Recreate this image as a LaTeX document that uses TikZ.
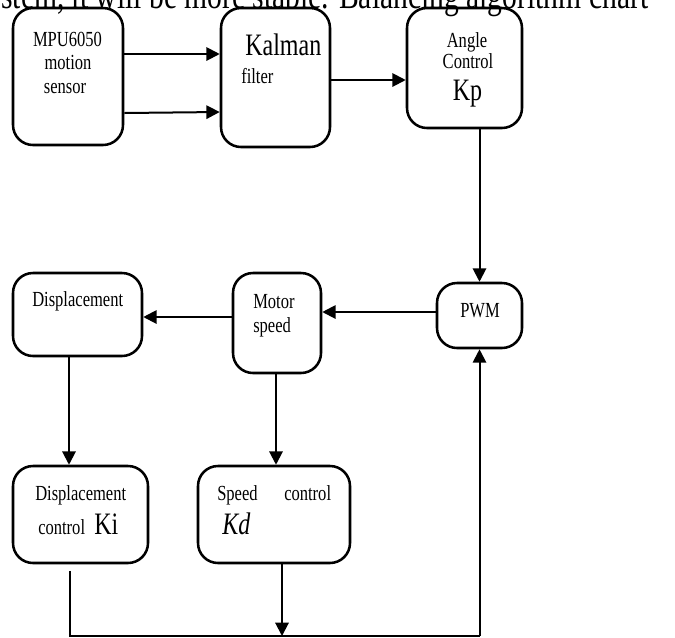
\documentclass[tikz,border=0pt]{standalone}
\usepackage{graphicx}
\usepackage{fontspec}
\setmainfont{Liberation Serif}
\usetikzlibrary{arrows.meta,calc}
\newcommand{\tall}[1]{\scalebox{1}[1.3]{#1}}
\tikzset{
  box/.style={draw, line width=1.9pt, rounded corners=15pt, inner sep=0pt},
  conn/.style={line width=1.5pt},
  arr/.style={conn, -{Triangle[length=10pt,width=10pt]}},
  sm/.style={inner sep=0pt, font=\fontsize{12.4pt}{14pt}\selectfont},
  bg/.style={inner sep=0pt, font=\fontsize{18pt}{20pt}\selectfont},
  hd/.style={inner sep=0pt, anchor=base west, font=\fontsize{22.2pt}{26pt}\selectfont}
}
\begin{document}
\begin{tikzpicture}[x=0.75pt,y=-0.75pt]
\useasboundingbox (0,0) rectangle (675,637);
% clipped heading line
\node[hd] (head) at (1,8) {\tall{stem, it will be more stable. Balancing algorithm chart}};
% boxes
\node[box, minimum width=82.5pt, minimum height=102.75pt] (mpu) at (68,76.5) {};
\node[box, minimum width=81.75pt, minimum height=104.25pt] (kal) at (275.5,77.5) {};
\node[box, minimum width=86.25pt, minimum height=90pt] (ang) at (464.5,68) {};
\node[box, minimum width=63.75pt, minimum height=48.75pt] (pwm) at (479.5,315.5) {};
\node[box, minimum width=66pt, minimum height=75pt] (mot) at (277,323) {};
\node[box, minimum width=96.75pt, minimum height=62.25pt] (dis) at (77.5,314.5) {};
\node[box, minimum width=101.25pt, minimum height=72.75pt] (dc) at (80.5,514.5) {};
\node[box, minimum width=114pt, minimum height=72.75pt] (sc) at (274,514.5) {};
% texts
\node[sm, anchor=base] (t1) at (67.5,46.7) {\tall{MPU6050}};
\node[sm, anchor=base] (t2) at (68,69) {\tall{motion}};
\node[sm, anchor=base] (t3) at (65,93) {\tall{sensor}};
\node[bg, anchor=base west] (t4) at (245,55) {\tall{Kalman}};
\node[sm, anchor=base west] (t5) at (241,83) {\tall{filter}};
\node[sm, anchor=base] (t6) at (467,47) {\tall{Angle}};
\node[sm, anchor=base] (t7) at (468,68) {\tall{Control}};
\node[bg, anchor=base] (t8) at (467.5,100) {\tall{Kp}};
\node[sm, anchor=base west] (t9) at (32,306.7) {\tall{Displacement}};
\node[sm, anchor=base west] (t10) at (253,308.3) {\tall{Motor}};
\node[sm, anchor=base west] (t11) at (253,332.7) {\tall{speed}};
\node[sm, anchor=base west] (t12) at (460,317.3) {\tall{PWM}};
\node[sm, anchor=base west] (t13) at (35,500) {\tall{Displacement}};
\node[sm, anchor=base west] (t14) at (38,534) {\tall{control}};
\node[bg, anchor=base west] (t15) at (94,534) {\tall{Ki}};
\node[sm, anchor=base west] (t16) at (217,500) {\tall{Speed}};
\node[sm, anchor=base west] (t17) at (284,500) {\tall{control}};
\node[bg, anchor=base west] (t18) at (222,534) {\tall{\itshape Kd}};
% connectors
\draw[arr] (mpu.east |- 0,54) -- (kal.west |- 0,54);
\draw[arr] (mpu.east |- 0,113) -- (kal.west |- 0,112);
\draw[arr] (kal.east |- 0,80) -- (ang.west |- 0,80);
\draw[arr] (pwm.north |- ang.south) -- (pwm.north);
\draw[arr] (pwm.west |- 0,312) -- (mot.east |- 0,312);
\draw[arr] (mot.west |- 0,317) -- (dis.east |- 0,317);
\draw[arr] (dis.south -| 69,0) -- (dc.north -| 69,0);
\draw[arr] (mot.south -| 276,0) -- (sc.north -| 276,0);
\coordinate (bl) at (70,636);
\coordinate (bm) at (282,636);
\coordinate (br) at (pwm.south |- bl);
\draw[conn] ([yshift=-5pt]dc.south -| bl) -- (bl) -- (br);
\draw[arr] (br) -- (pwm.south);
\draw[arr] (sc.south -| bm) -- (bm);
\end{tikzpicture}
\end{document}
